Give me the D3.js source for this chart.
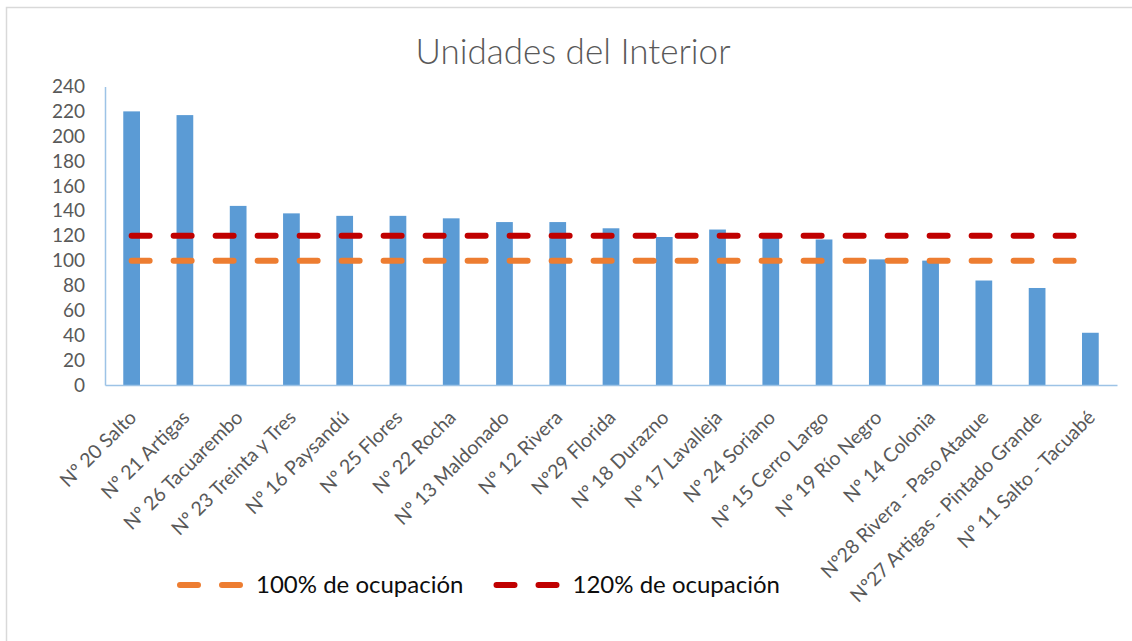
<!DOCTYPE html>
<html>
<head>
<meta charset="utf-8">
<script src="https://cdn.jsdelivr.net/npm/d3@7"></script>
<style>
  html, body { margin: 0; padding: 0; background: #fff; }
  svg { display: block; }
</style>
</head>
<body>
<svg id="chart" width="1132" height="641"></svg>
<script>
const categories = [
  "Nº 20 Salto", "Nº 21 Artigas", "Nº 26 Tacuarembo", "Nº 23 Treinta y Tres",
  "Nº 16 Paysandú", "Nº 25 Flores", "Nº 22 Rocha", "Nº 13 Maldonado",
  "Nº 12 Rivera", "Nº29 Florida", "Nº 18 Durazno", "Nº 17 Lavalleja",
  "Nº 24 Soriano", "Nº 15 Cerro Largo", "Nº 19 Río Negro", "Nº 14 Colonia",
  "Nº28 Rivera - Paso Ataque", "Nº27 Artigas - Pintado Grande", "Nº 11 Salto - Tacuabé"
];
const occupancy = [220, 217, 144, 138, 136, 136, 134, 131, 131, 126, 119, 125, 120, 117, 101, 100, 84, 78, 42];
const line100 = [100, 100, 100, 100, 100, 100, 100, 100, 100, 100, 100, 100, 100, 100, 100, 100, 100, 100, 100];
const line120 = [120, 120, 120, 120, 120, 120, 120, 120, 120, 120, 120, 120, 120, 120, 120, 120, 120, 120, 120];
const yTicks = [0, 20, 40, 60, 80, 100, 120, 140, 160, 180, 200, 220, 240];
const title = "Unidades del Interior";
const legendLabels = ["100% de ocupación", "120% de ocupación"];

const svg = d3.select("#chart");
const FONT = "Lato, 'Open Sans', sans-serif";

// outer border
svg.append("rect")
  .attr("x", 6.5).attr("y", 7.5)
  .attr("width", 1140).attr("height", 650)
  .attr("fill", "#fff")
  .attr("stroke", "#d9d9d9").attr("stroke-width", 1.5);

const plot = { left: 105, right: 1117, top: 86.5, bottom: 385 };

const x = d3.scaleBand()
  .domain(categories)
  .range([plot.left, plot.right])
  .paddingInner(0.686)
  .paddingOuter(0.343);

const y = d3.scaleLinear().domain([0, 240]).range([plot.bottom, plot.top]);

// title
svg.append("text")
  .attr("x", 573).attr("y", 64)
  .attr("text-anchor", "middle")
  .attr("font-family", FONT)
  .attr("font-weight", 300)
  .attr("font-size", 35)
  .attr("fill", "#595959")
  .text(title);

// y axis
const yAxis = d3.axisLeft(y).tickValues(yTicks).tickSize(0).tickPadding(20);
const gy = svg.append("g").attr("transform", `translate(${plot.left},0)`).call(yAxis);
gy.select(".domain").attr("stroke", "#9dc3e6").attr("stroke-width", 1.5);
gy.selectAll("text")
  .attr("font-family", FONT).attr("font-size", 19).attr("fill", "#595959");

// bars
svg.append("g").selectAll("rect")
  .data(occupancy)
  .join("rect")
  .attr("x", (d, i) => x(categories[i]))
  .attr("y", d => y(d))
  .attr("width", x.bandwidth())
  .attr("height", d => y(0) - y(d))
  .attr("fill", "#5b9bd5");

// x axis
const xAxis = d3.axisBottom(x).tickSize(0).tickFormat(d => d);
const gx = svg.append("g").attr("transform", `translate(0,${plot.bottom})`).call(xAxis);
gx.select(".domain").attr("stroke", "#9dc3e6").attr("stroke-width", 1.5);
gx.selectAll("text")
  .attr("font-family", FONT).attr("font-size", 19.5).attr("fill", "#595959")
  .attr("text-anchor", "end")
  .attr("x", 0).attr("y", 0)
  .attr("dy", "0.35em")
  .attr("transform", "translate(1,29) rotate(-45)");

// dashed reference lines
const line = d3.line()
  .x((d, i) => x(categories[i]) + x.bandwidth() / 2)
  .y(d => y(d));

const series = [
  { name: legendLabels[0], values: line100, color: "#ed7d31" },
  { name: legendLabels[1], values: line120, color: "#c00000" }
];

svg.append("g").selectAll("path")
  .data(series)
  .join("path")
  .attr("d", d => line(d.values))
  .attr("fill", "none")
  .attr("stroke", d => d.color)
  .attr("stroke-width", 6)
  .attr("stroke-linecap", "round")
  .attr("stroke-dasharray", "18,24");

// legend
const legendX = [180, 496.5];
const legendY = 585;
const lg = svg.append("g").selectAll("g")
  .data(series)
  .join("g")
  .attr("transform", (d, i) => `translate(${legendX[i]},${legendY})`);
lg.append("line")
  .attr("x1", 0).attr("x2", 60).attr("y1", 0).attr("y2", 0)
  .attr("stroke", d => d.color)
  .attr("stroke-width", 6)
  .attr("stroke-linecap", "round")
  .attr("stroke-dasharray", "18,24");
lg.append("text")
  .attr("x", 76).attr("y", 0).attr("dy", "0.35em")
  .attr("font-family", FONT).attr("font-size", 24).attr("fill", "#0d0d0d")
  .text(d => d.name);
</script>
</body>
</html>
